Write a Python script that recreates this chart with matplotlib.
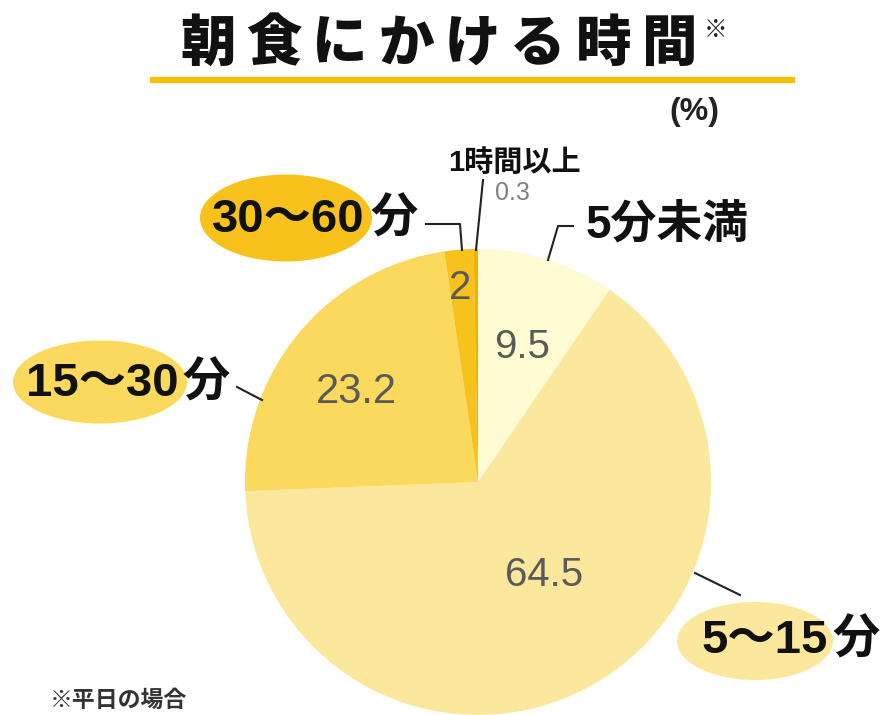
import matplotlib
matplotlib.use("Agg")
import matplotlib.pyplot as plt
from matplotlib.patches import Ellipse

plt.rcParams['font.family'] = ['Noto Sans CJK JP', 'DejaVu Sans']

# ---- data ----
categories = ["5分未満", "5〜15分", "15〜30分", "30〜60分", "1時間以上"]
values = [9.5, 64.5, 23.2, 2, 0.3]
colors = ["#FFFBD3", "#FCE89C", "#FAD95C", "#F7C21C", "#F2B000"]
title_text = "朝食にかける時間"
unit_text = "(%)"
footnote = "※平日の場合"

W, H = 880, 715
fig = plt.figure(figsize=(W / 100, H / 100), dpi=100)
ax = fig.add_axes([0, 0, 1, 1])

def Y(py):
    return H - py

cx, cy, r = 478, 482, 233
ax.pie(values, colors=colors, startangle=90, counterclock=False,
       center=(cx, Y(cy)), radius=r, wedgeprops=dict(linewidth=0))
ax.set_xlim(0, W)
ax.set_ylim(0, H)
ax.set_aspect('equal')
ax.axis('off')

LAB_FONT = ['Liberation Sans', 'Noto Sans CJK JP', 'DejaVu Sans']

# ---- title ----
tx0, tstep = 208, 66
for i, ch in enumerate(title_text):
    ax.text(tx0 + i * tstep, Y(44), ch, ha='center', va='center',
            fontsize=40, fontweight='heavy', color='#111111')
ax.text(716, Y(30), "※", ha='center', va='center', fontsize=17,
        fontweight='bold', color='#222222')
ax.plot([150, 795], [Y(80), Y(80)], color='#F5C000', lw=4.5,
        solid_capstyle='butt')
ax.text(694, Y(112), unit_text, ha='center', va='center', fontsize=23,
        fontweight='bold', color='#222222', family=LAB_FONT)

# ---- value labels ----
val_pos = [(522, 347), (544, 575), (356, 392), (460, 288), (512, 193)]
val_size = [29, 29, 30, 29, 18]
val_color = ['#5a5a5a', '#5a5a5a', '#5a5a5a', '#5a5a5a', '#808080']
for v, (x, y), fs, c in zip(values, val_pos, val_size, val_color):
    ax.text(x, Y(y), f"{v:g}", ha='center', va='center', fontsize=fs,
            family=['Liberation Sans'], color=c)

# ---- category labels ----
lab_kw = dict(ha='center', va='center', fontweight='bold', color='#111111',
              family=LAB_FONT)
FS = 34
# 5分未満
ax.text(667, Y(226), categories[0], fontsize=33, **lab_kw)
ax.plot([573, 558, 548], [Y(226), Y(226), Y(260)], color='#222222', lw=1.5)
# 5〜15分
ax.add_patch(Ellipse((755, Y(641)), 156, 78, color=colors[1], lw=0))
ax.text(765, Y(641), categories[1][:-1], fontsize=FS, **lab_kw)
ax.text(856, Y(641), categories[1][-1], fontsize=FS, **lab_kw)
ax.plot([695, 740], [Y(573), Y(595)], color='#222222', lw=1.5)
# 15〜30分
ax.add_patch(Ellipse((100, Y(382)), 174, 83, color=colors[2], lw=0))
ax.text(102, Y(384), categories[2][:-1], fontsize=FS, **lab_kw)
ax.text(206, Y(384), categories[2][-1], fontsize=FS, **lab_kw)
ax.plot([237, 262], [Y(387), Y(400)], color='#222222', lw=1.5)
# 30〜60分
ax.add_patch(Ellipse((286, Y(218)), 172, 87, color=colors[3], lw=0))
ax.text(288, Y(220), categories[3][:-1], fontsize=FS, **lab_kw)
ax.text(394, Y(220), categories[3][-1], fontsize=FS, **lab_kw)
ax.plot([426, 460, 462], [Y(224), Y(224), Y(250)], color='#222222', lw=1.5)
# 1時間以上
ax.text(514, Y(163), categories[4], fontsize=21, **lab_kw)
ax.plot([483, 476], [Y(180), Y(250)], color='#222222', lw=1.5)

# ---- footnote ----
ax.text(118, Y(700), footnote, ha='center', va='center', fontsize=16.5,
        fontweight='bold', color='#333333')

fig.savefig("out.png", dpi=100)
